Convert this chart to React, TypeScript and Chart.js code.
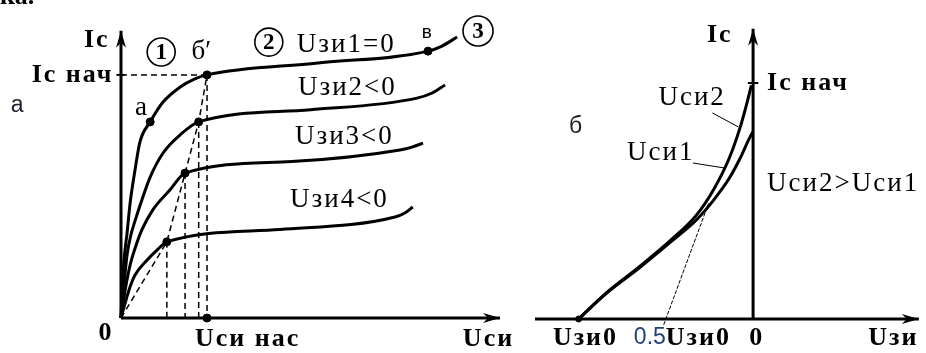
import { useEffect, useRef } from 'react';
import { Chart, registerables } from 'chart.js';

Chart.register(...registerables);

type Pt = [number, number];

// ---------- Panel "а": drain characteristics Ic(Uси) ----------
const icNachA = 8.59; // Ic нач
const usiSat = 2.27; // Uси нас

const curveUzi1: Pt[] = [[0, 0], [0.03, 0.99], [0.08, 2.05], [0.16, 3.0], [0.24, 4.06], [0.37, 5.23], [0.5, 6.22], [0.77, 6.93], [1.11, 7.63], [1.56, 8.16], [1.95, 8.45], [2.27, 8.59], [5.2, 9.01], [8.1, 9.43], [8.47, 9.61], [8.87, 9.93]];
const curveUzi2: Pt[] = [[0, 0], [0.08, 1.17], [0.16, 2.23], [0.26, 2.93], [0.37, 3.43], [0.55, 4.17], [0.77, 4.98], [1.11, 5.83], [1.56, 6.47], [2.05, 6.93], [5.0, 7.36], [7.81, 7.77], [8.21, 7.95], [8.55, 8.23]];
const curveUzi3: Pt[] = [[0, 0], [0.11, 0.99], [0.24, 1.87], [0.4, 2.58], [0.55, 3.11], [0.84, 3.82], [1.29, 4.52], [1.69, 5.12], [4.5, 5.53], [7.36, 5.94], [7.68, 6.04], [7.97, 6.18]];
const curveUzi4: Pt[] = [[0, 0], [0.11, 0.53], [0.24, 1.1], [0.37, 1.52], [0.69, 2.05], [0.95, 2.4], [1.21, 2.69], [4.2, 3.13], [7.23, 3.57], [7.49, 3.71], [7.7, 3.92]];

// saturation knees (Uси нас for each gate voltage)
const kneePoints: Pt[] = [[1.21, 2.69], [1.69, 5.12], [2.05, 6.93], [usiSat, icNachA]];
const pointA: Pt = [0.77, 6.93];
const pointV: Pt = [8.1, 9.43];

const axisXMaxA = 10;
const axisYMaxA = 10.15;

// ---------- Panel "б": transfer characteristics Ic(Uзи) ----------
const uzi0 = -4; // Uзи0 (cut-off)
const icNachB = 10;
const transferUsi2: Pt[] = [[-4, 0], [-3.37, 1.1], [-2.62, 2.2], [-1.88, 3.35], [-1.3, 4.4], [-0.9, 5.5], [-0.55, 6.8], [-0.3, 8.1], [-0.12, 9.3], [-0.04, 9.9]];
const transferUsi1: Pt[] = [[-4, 0], [-3.37, 1.08], [-2.62, 2.15], [-1.88, 3.28], [-1.3, 4.2], [-0.9, 5.05], [-0.55, 5.95], [-0.3, 6.8], [-0.1, 7.6], [0, 7.95]];
const tangentLine: Pt[] = [[0.5 * uzi0 - 0.05, -0.25], [-1.02, 4.9]];
const leaderUsi2: Pt[] = [[-0.93, 8.73], [-0.34, 8.14]];
const leaderUsi1: Pt[] = [[-1.38, 6.61], [-0.66, 6.4]];

const axisXMinB = -5;
const axisXMaxB = 3.8;
const axisYMaxB = 12.3;

// ---------- drawing helpers ----------
const BOLD = 'bold 26px "Liberation Serif"';
const SERIF = '27px "Liberation Serif"';
const SANS = '23px "Liberation Sans"';

type Label = { text: string; x: number; y: number; font: string; align?: CanvasTextAlign; color?: string; spacing?: number; baseline?: CanvasTextBaseline };
type Ring = { digit: string; x: number; y: number; r: number };
type Arrow = { x: number; y: number; dir: 'up' | 'right' };

const toXY = (pts: Pt[]) => pts.map(([x, y]) => ({ x, y }));

const solid = (pts: Pt[], width = 3) => ({
  data: toXY(pts),
  borderColor: '#000',
  borderWidth: width,
  pointRadius: 0,
  cubicInterpolationMode: 'monotone' as const,
  clip: false as const,
});

const dashed = (pts: Pt[], width = 1.5, dash = [6, 4]) => ({
  data: toXY(pts),
  borderColor: '#000',
  borderWidth: width,
  borderDash: dash,
  pointRadius: 0,
  tension: 0,
  clip: false as const,
});

const markers = (pts: Pt[], r = 4) => ({
  data: toXY(pts),
  showLine: false,
  pointRadius: r,
  pointBackgroundColor: '#000',
  pointBorderColor: '#000',
  clip: false as const,
});

function drawArrow(ctx: CanvasRenderingContext2D, x: number, y: number, dir: 'up' | 'right') {
  ctx.save();
  ctx.translate(x, y);
  if (dir === 'right') ctx.rotate(Math.PI / 2);
  ctx.beginPath();
  ctx.moveTo(0, 0);
  ctx.lineTo(-5, 17);
  ctx.lineTo(0, 12);
  ctx.lineTo(5, 17);
  ctx.closePath();
  ctx.fillStyle = '#000';
  ctx.fill();
  ctx.restore();
}

function overlay(labels: Label[], rings: Ring[], arrows: Arrow[]) {
  return {
    id: 'overlay',
    afterDatasetsDraw(chart: Chart) {
      const { ctx } = chart;
      const sx = chart.scales.x;
      const sy = chart.scales.y;
      ctx.save();
      arrows.forEach((a) => drawArrow(ctx, sx.getPixelForValue(a.x), sy.getPixelForValue(a.y), a.dir));
      rings.forEach((r) => {
        const cx = sx.getPixelForValue(r.x);
        const cy = sy.getPixelForValue(r.y);
        ctx.beginPath();
        ctx.arc(cx, cy, r.r, 0, Math.PI * 2);
        ctx.lineWidth = 1.6;
        ctx.strokeStyle = '#000';
        ctx.stroke();
        ctx.font = 'bold 23px "Liberation Serif"';
        ctx.fillStyle = '#000';
        ctx.textAlign = 'center';
        ctx.textBaseline = 'middle';
        ctx.fillText(r.digit, cx, cy + 1);
      });
      labels.forEach((l) => {
        ctx.font = l.font;
        ctx.fillStyle = l.color || '#000';
        ctx.textAlign = l.align || 'left';
        ctx.textBaseline = l.baseline || 'middle';
        (ctx as any).letterSpacing = `${l.spacing ?? 0}px`;
        ctx.fillText(l.text, sx.getPixelForValue(l.x), sy.getPixelForValue(l.y));
      });
      (ctx as any).letterSpacing = '0px';
      ctx.restore();
    },
  };
}

const labelsA: Label[] = [
  { text: 'ка.', x: -3.19, y: 11.1, font: 'bold 26px "Liberation Serif"', baseline: 'alphabetic' },
  { text: 'а', x: -2.74, y: 7.5, font: SANS, align: 'center', color: '#1d1f2a' },
  { text: 'Ic', x: -0.3, y: 9.8, font: BOLD, align: 'right', spacing: 2 },
  { text: 'Ic нач', x: -0.2, y: icNachA, font: BOLD, align: 'right', spacing: 2 },
  { text: 'a', x: 0.53, y: 7.42, font: SERIF, align: 'center' },
  { text: 'б′', x: 2.12, y: 9.4, font: SERIF, align: 'center' },
  { text: 'Uзи1=0', x: 4.64, y: 9.65, font: SERIF, spacing: 2 },
  { text: 'в', x: 8.07, y: 10.07, font: '19px "Liberation Sans"', align: 'center' },
  { text: 'Uзи2<0', x: 4.67, y: 8.13, font: SERIF, spacing: 2 },
  { text: 'Uзи3<0', x: 4.59, y: 6.4, font: SERIF, spacing: 2 },
  { text: 'Uзи4<0', x: 4.46, y: 4.17, font: SERIF, spacing: 2 },
  { text: '0', x: -0.42, y: -0.53, font: BOLD, align: 'center' },
  { text: 'Uси нас', x: 1.95, y: -0.74, font: BOLD, spacing: 2 },
  { text: 'Uси', x: 9.02, y: -0.74, font: BOLD, spacing: 2 },
];

const ringsA: Ring[] = [
  { digit: '1', x: 1.06, y: 9.4, r: 14 },
  { digit: '2', x: 3.9, y: 9.75, r: 14 },
  { digit: '3', x: 9.42, y: 10.14, r: 15 },
];

const labelsB: Label[] = [
  { text: 'Ic', x: -0.47, y: 12.03, font: BOLD, align: 'right', spacing: 2 },
  { text: 'Ic нач', x: 0.32, y: icNachB, font: BOLD, spacing: 2 },
  { text: 'б', x: -4.07, y: 8.14, font: SANS, align: 'center', color: '#1d1f2a' },
  { text: 'Uси2', x: -2.17, y: 9.36, font: SERIF, spacing: 2 },
  { text: 'Uси1', x: -2.89, y: 7.03, font: SERIF, spacing: 2 },
  { text: 'Uси2>Uси1', x: 0.32, y: 5.72, font: SERIF, spacing: 2 },
  { text: 'Uзи0', x: -4.59, y: -0.8, font: BOLD, spacing: 2 },
  { text: '0.5', x: 0.5 * uzi0, y: -0.8, font: SANS, align: 'right', color: '#24407a' },
  { text: 'Uзи0', x: 0.5 * uzi0, y: -0.8, font: BOLD, spacing: 2 },
  { text: '0', x: -0.09, y: -0.8, font: BOLD },
  { text: 'Uзи', x: 2.64, y: -0.8, font: BOLD, spacing: 2 },
];

const baseOptions = (padding: any, xr: [number, number], yr: [number, number]) => ({
  animation: false as const,
  responsive: false,
  maintainAspectRatio: false,
  events: [] as any[],
  layout: { padding },
  plugins: { legend: { display: false }, tooltip: { enabled: false }, title: { display: false } },
  elements: { point: { radius: 0 }, line: { fill: false } },
  scales: {
    x: { type: 'linear' as const, min: xr[0], max: xr[1], display: false },
    y: { type: 'linear' as const, min: yr[0], max: yr[1], display: false },
  },
});

export default function App() {
  const leftRef = useRef<HTMLCanvasElement>(null);
  const rightRef = useRef<HTMLCanvasElement>(null);

  useEffect(() => {
    const left = new Chart(leftRef.current!, {
      type: 'line',
      data: {
        datasets: [
          solid([[0, 0], [axisXMaxA, 0]]),
          solid([[0, 0], [0, axisYMaxA]]),
          solid([[-0.12, icNachA], [0.1, icNachA]], 2),
          dashed([[0, icNachA], [usiSat, icNachA]]),
          dashed([[0, 0], ...kneePoints]),
          ...kneePoints.map(([x, y]) => dashed([[x, y], [x, 0]])),
          solid(curveUzi1),
          solid(curveUzi2),
          solid(curveUzi3),
          solid(curveUzi4),
          markers([pointA, pointV, ...kneePoints, [usiSat, 0]]),
        ] as any,
      },
      options: baseOptions({ left: 121, right: 30, top: 35, bottom: 35 }, [0, 10], [0, 10]) as any,
      plugins: [overlay(labelsA, ringsA, [{ x: 0, y: axisYMaxA, dir: 'up' }, { x: axisXMaxA, y: 0, dir: 'right' }])],
    });

    const right = new Chart(rightRef.current!, {
      type: 'line',
      data: {
        datasets: [
          solid([[axisXMinB, 0], [axisXMaxB, 0]]),
          solid([[0, 0], [0, axisYMaxB]]),
          solid([[-0.12, icNachB], [0.12, icNachB]], 2),
          dashed(tangentLine, 1, [4, 1.5]),
          solid(leaderUsi2, 1),
          solid(leaderUsi1, 1),
          solid(transferUsi1),
          solid(transferUsi2),
          markers([[uzi0, 0]], 3),
        ] as any,
      },
      options: baseOptions({ left: 5, right: 0, top: 24, bottom: 34 }, [axisXMinB, 3.85], [0, 12.5]) as any,
      plugins: [overlay(labelsB, [], [{ x: 0, y: axisYMaxB, dir: 'up' }, { x: axisXMaxB, y: 0, dir: 'right' }])],
    });

    return () => {
      left.destroy();
      right.destroy();
    };
  }, []);

  return (
    <div style={{ position: 'fixed', left: 0, top: 0, width: 926, height: 353, background: '#fff', overflow: 'hidden' }}>
      <canvas ref={leftRef} width={530} height={353} style={{ position: 'absolute', left: 0, top: 0 }} />
      <canvas ref={rightRef} width={396} height={353} style={{ position: 'absolute', left: 530, top: 0 }} />
    </div>
  );
}
